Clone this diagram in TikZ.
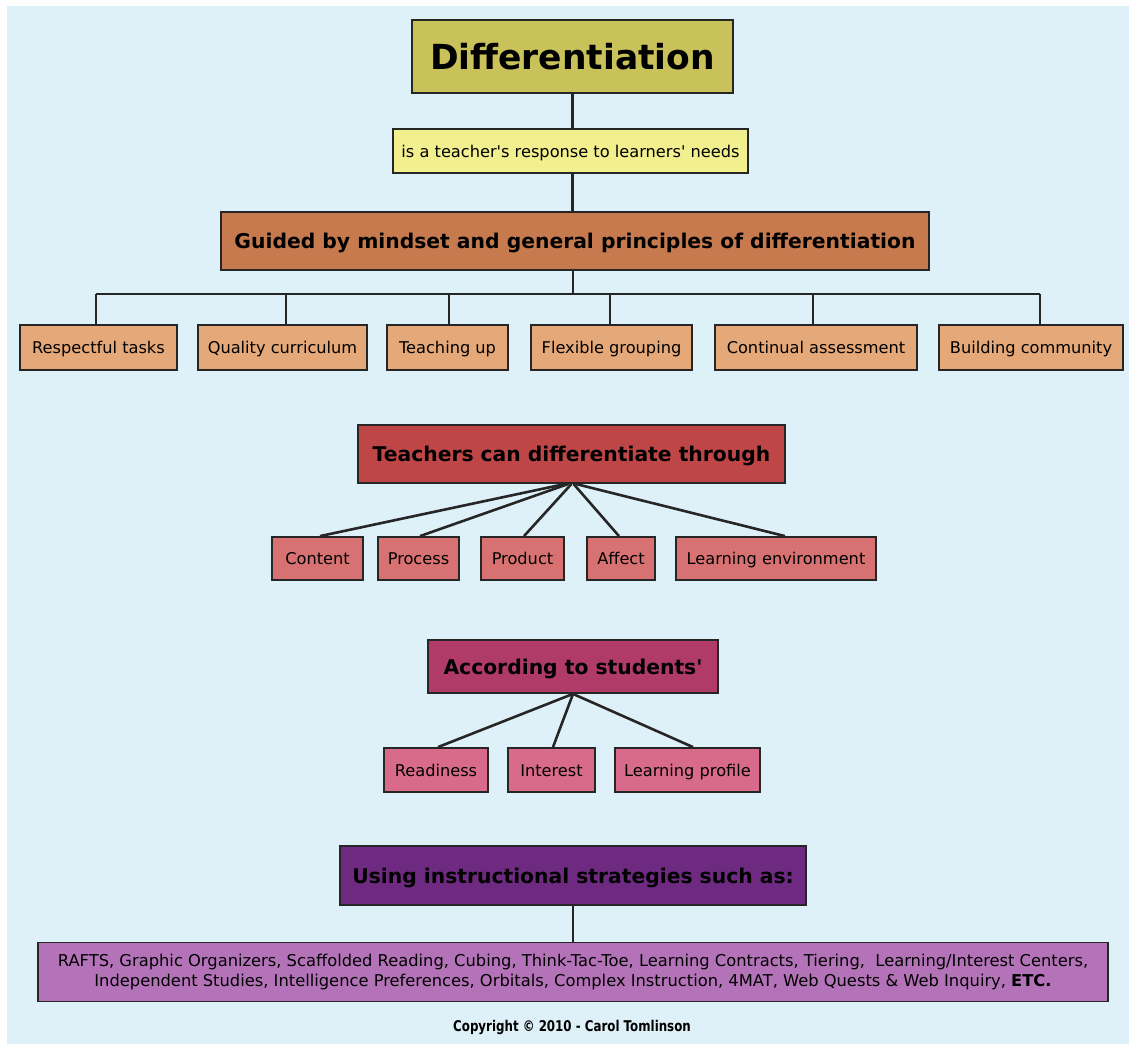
\documentclass[tikz,border=0pt]{standalone}
\usepackage{fontspec}
\setmainfont{DejaVu Sans}
\newfontfamily\condfont{DejaVu Sans}[FakeStretch=0.8]

\definecolor{bgblue}{HTML}{DFF1F8}
\definecolor{cOlive}{HTML}{C9C25A}
\definecolor{cPale}{HTML}{F2EF8E}
\definecolor{cRust}{HTML}{C77A4E}
\definecolor{cPeach}{HTML}{E5A878}
\definecolor{cRed}{HTML}{BE4646}
\definecolor{cRose}{HTML}{D87272}
\definecolor{cMag}{HTML}{B03A68}
\definecolor{cPink}{HTML}{D96B8A}
\definecolor{cPurple}{HTML}{6E2A80}
\definecolor{cOrchid}{HTML}{B473B8}
\definecolor{ink}{HTML}{262626}

\newcommand{\apos}{\textquotesingle}

\tikzset{
  box/.style 2 args={draw=ink, line width=1.8pt, inner sep=0pt, text=black,
    minimum width=#1pt, minimum height=#2pt, text depth=0pt},
  titlefont/.style={font=\fontsize{34.5}{40}\selectfont\bfseries, text height=26.5pt},
  headfont/.style={font=\fontsize{20.3}{24}\selectfont\bfseries, text height=15.6pt},
  leaffont/.style={font=\fontsize{16.2}{19}\selectfont, text height=12.6pt},
  wire/.style={draw=ink, line width=2.6pt},
}

\begin{document}
\begin{tikzpicture}[x=1pt, y=-1pt]
  % page and background
  \useasboundingbox (0,0) rectangle (1129,1044);
  \fill[white] (0,0) rectangle (1129,1044);
  \fill[bgblue] (7,6) rectangle (1129,1044);

  % title and definition
  \node[box={321}{73}, fill=cOlive, titlefont] (diff) at (572.5,56.5) {Differentiation};
  \node[box={355}{44}, fill=cPale, leaffont] (resp) at (570.5,151)
    {is a teacher\apos s response to learners\apos\ needs};

  % principles
  \node[box={708}{58}, fill=cRust, headfont] (guide) at (575,241)
    {Guided by mindset and general principles of differentiation};
  \node[box={157}{45}, fill=cPeach, leaffont] (p1) at (98.5,347.5) {Respectful tasks};
  \node[box={169}{45}, fill=cPeach, leaffont] (p2) at (282.5,347.5) {Quality curriculum};
  \node[box={121}{45}, fill=cPeach, leaffont] (p3) at (447.5,347.5) {Teaching up};
  \node[box={161}{45}, fill=cPeach, leaffont] (p4) at (611.5,347.5) {Flexible grouping};
  \node[box={202}{45}, fill=cPeach, leaffont] (p5) at (816,347.5) {Continual assessment};
  \node[box={184}{45}, fill=cPeach, leaffont] (p6) at (1031,347.5) {Building community};
  \coordinate (bus) at (573,294);

  % ways to differentiate
  \node[box={427}{58}, fill=cRed, headfont] (teach) at (571.5,454)
    {Teachers can differentiate through};
  \node[box={91}{43}, fill=cRose, leaffont] (w1) at (317.5,558.5) {Content};
  \node[box={81}{43}, fill=cRose, leaffont] (w2) at (418.5,558.5) {Process};
  \node[box={83}{43}, fill=cRose, leaffont] (w3) at (522.5,558.5) {Product};
  \node[box={68}{43}, fill=cRose, leaffont] (w4) at (621,558.5) {Affect};
  \node[box={200}{43}, fill=cRose, leaffont] (w5) at (776,558.5) {Learning environment};

  % student traits
  \node[box={290}{53}, fill=cMag, headfont] (acc) at (573,666.5)
    {According to students\apos};
  \node[box={104}{44}, fill=cPink, leaffont] (s1) at (436,770) {Readiness};
  \node[box={87}{44}, fill=cPink, leaffont] (s2) at (551.5,770) {Interest};
  \node[box={145}{44}, fill=cPink, leaffont] (s3) at (687.5,770) {Learning profile};

  % strategies
  \node[box={466}{59}, fill=cPurple, headfont] (using) at (573,875.5)
    {Using instructional strategies such as:};
  \node[draw=ink, line width=1.8pt, inner sep=0pt, minimum width=1070pt, minimum height=59pt,
        fill=cOrchid, align=center, font=\fontsize{16.3}{20.5}\selectfont] (strat) at (573,972)
    {RAFTS, Graphic Organizers, Scaffolded Reading, Cubing, Think-Tac-Toe, Learning Contracts, Tiering, \ Learning/Interest Centers,\\
     Independent Studies, Intelligence Preferences, Orbitals, Complex Instruction, 4MAT, Web Quests \& Web Inquiry, \textbf{ETC.}};

  \node[font=\condfont\fontsize{14.8}{17}\selectfont\bfseries] (copy) at (572,1027)
    {Copyright © 2010 - Carol Tomlinson};

  % connectors
  \draw[wire] (diff.south) -- (diff.south |- resp.north);
  \draw[wire] (resp.south -| diff.south) -- (guide.north -| diff.south);
  \draw[wire] (guide.south -| bus) -- (bus);
  \draw[wire] ([xshift=-2.5pt]p1.north |- bus) -- ([xshift=9pt]p6.north |- bus);
  \draw[wire] ([xshift=-2.5pt]p1.north) -- ([xshift=-2.5pt]p1.north |- bus);
  \draw[wire] ([xshift=3.5pt]p2.north) -- ([xshift=3.5pt]p2.north |- bus);
  \draw[wire] ([xshift=1.5pt]p3.north) -- ([xshift=1.5pt]p3.north |- bus);
  \draw[wire] ([xshift=-1.5pt]p4.north) -- ([xshift=-1.5pt]p4.north |- bus);
  \draw[wire] ([xshift=-3pt]p5.north) -- ([xshift=-3pt]p5.north |- bus);
  \draw[wire] ([xshift=9pt]p6.north) -- ([xshift=9pt]p6.north |- bus);

  \draw[wire] ([xshift=-6pt]teach.south) -- ([xshift=2.5pt]w1.north);
  \draw[wire] ([xshift=-3pt]teach.south) -- ([xshift=1.5pt]w2.north);
  \draw[wire] ([xshift=0pt]teach.south) -- ([xshift=1.5pt]w3.north);
  \draw[wire] ([xshift=2pt]teach.south) -- ([xshift=-2pt]w4.north);
  \draw[wire] ([xshift=4pt]teach.south) -- ([xshift=9pt]w5.north);

  \draw[wire] (acc.south) -- ([xshift=2pt]s1.north);
  \draw[wire] (acc.south) -- ([xshift=1.5pt]s2.north);
  \draw[wire] (acc.south) -- ([xshift=5.5pt]s3.north);

  \draw[wire] (using.south) -- (strat.north);
\end{tikzpicture}
\end{document}
